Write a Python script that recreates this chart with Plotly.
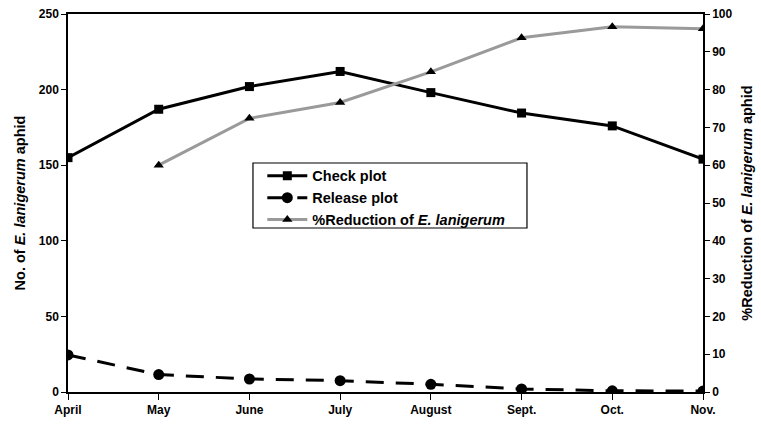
import plotly.graph_objects as go

months = ["April", "May", "June", "July", "August", "Sept.", "Oct.", "Nov."]
check_plot = [155, 187, 202, 212, 198, 184.5, 176, 154]
release_plot = [24.5, 11.5, 8.6, 7.5, 5.1, 2.0, 0.8, 0.6]
reduction_months = ["May", "June", "July", "August", "Sept.", "Oct.", "Nov."]
reduction_pct = [60, 72.4, 76.6, 84.7, 93.7, 96.6, 96.1]

FONT = "Liberation Sans, Arial, sans-serif"

fig = go.Figure()
fig.add_trace(go.Scatter(
    x=months, y=check_plot, name="Check plot", mode="lines+markers",
    line=dict(color="black", width=3),
    marker=dict(symbol="square", size=9, color="black"),
))
fig.add_trace(go.Scatter(
    x=months, y=release_plot, name="Release plot", mode="lines+markers",
    line=dict(color="black", width=3, dash="18px,12px"),
    marker=dict(symbol="circle", size=11, color="black"),
))
fig.add_trace(go.Scatter(
    x=reduction_months, y=reduction_pct, name="%Reduction of <i>E. lanigerum</i>",
    mode="lines+markers", yaxis="y2",
    line=dict(color="#9a9a9a", width=3),
    marker=dict(symbol="triangle-up", size=9, color="black"),
))

tickfont = dict(family=FONT, size=12, color="black", weight="bold")
titlefont = dict(family=FONT, size=14.5, color="black", weight="bold")
fig.update_layout(
    width=761, height=425,
    margin=dict(l=68, r=58, t=14, b=33, autoexpand=False),
    paper_bgcolor="white", plot_bgcolor="white",
    font=dict(family=FONT, color="black"),
    showlegend=True,
    legend=dict(
        x=0.306, y=0.614, xanchor="left", yanchor="top",
        bgcolor="rgba(0,0,0,0)", borderwidth=0,
        font=dict(family=FONT, size=14.5, color="black", weight="bold"),
        tracegroupgap=0, itemwidth=40,
    ),
    shapes=[dict(
        type="rect", xref="paper", yref="paper",
        x0=0.2913, x1=0.7228, y0=0.4339, y1=0.6058,
        line=dict(color="black", width=1.2), fillcolor="rgba(0,0,0,0)",
        layer="above",
    )],
    xaxis=dict(
        type="category", categoryorder="array", categoryarray=months,
        range=[0, 7], showline=True, linecolor="black", linewidth=1.5,
        mirror=True, ticks="outside", ticklen=6, tickcolor="black",
        tickfont=tickfont, automargin=False,
        showgrid=False, zeroline=False,
    ),
    xaxis2=dict(
        overlaying="x", anchor="y", side="bottom", range=[0, 7], dtick=1,
        ticks="inside", ticklen=5, tickcolor="black", showticklabels=False,
        showline=False, showgrid=False, zeroline=False, automargin=False,
    ),
    yaxis=dict(
        range=[0, 250], dtick=50, showline=True, linecolor="black", linewidth=1.5,
        ticks="outside", ticklen=5, tickcolor="black",
        tickfont=tickfont, automargin=False,
        showgrid=False, zeroline=False,
        title=dict(text="No. of <i>E. lanigerum</i> aphid", font=titlefont, standoff=10),
    ),
    yaxis2=dict(
        range=[0, 100], dtick=10, overlaying="y", side="right", anchor="x",
        showline=True, linecolor="black", linewidth=1.5,
        ticks="outside", ticklen=5, tickcolor="black",
        tickfont=tickfont, automargin=False,
        showgrid=False, zeroline=False,
        title=dict(text="%Reduction of <i>E. lanigerum</i> aphid", font=titlefont, standoff=10),
    ),
    yaxis3=dict(
        range=[0, 100], dtick=10, overlaying="y", side="right", anchor="x",
        ticks="inside", ticklen=5, tickcolor="black", showticklabels=False,
        showline=False, showgrid=False, zeroline=False, automargin=False,
    ),
)

fig.write_html(
    "out.html",
    config={"displayModeBar": False},
    post_script="document.body.style.margin='0';document.body.style.overflow='hidden';",
)
